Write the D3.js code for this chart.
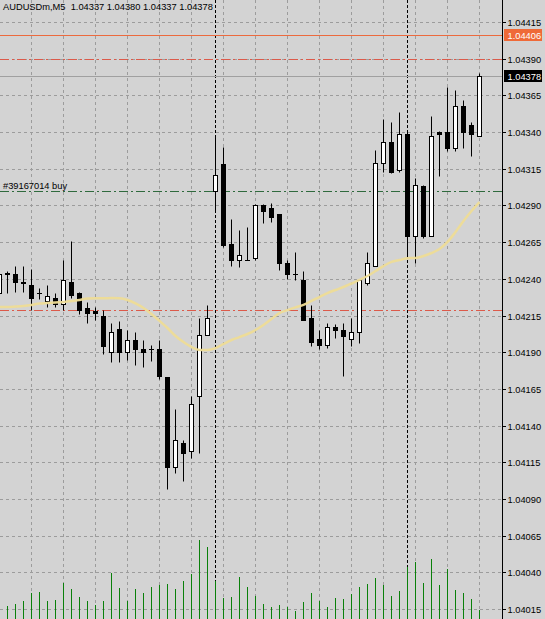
<!DOCTYPE html>
<html><head><meta charset="utf-8">
<script src="https://cdn.jsdelivr.net/npm/d3@7"></script>
<style>html,body{margin:0;padding:0;background:#d3d3d3;overflow:hidden}</style>
</head><body>
<script>
// ---------- data ----------
const symbolTitle = "AUDUSDm,M5  1.04337 1.04380 1.04337 1.04378";
const orderLabel = "#39167014 buy";
const barIndex = d3.range(-1, 60);
const opens = [1.04230,1.04244,1.04243,1.04238,1.04236,1.04230,1.04225,1.04227,1.04223,1.04238,
  1.04230,1.04220,1.04218,1.04215,1.04190,1.04206,1.04190,1.04198,1.04192,1.04192,
  1.04192,1.04173,1.04112,1.04128,1.04123,1.04160,1.04202,1.04300,1.04318,1.04264,
  1.04253,1.04253,1.04254,1.04290,1.04288,1.04284,1.04251,1.04243,1.04239,1.04213,
  1.04199,1.04195,1.04207,1.04205,1.04199,1.04204,1.04237,1.04249,1.04319,1.04333,
  1.04314,1.04339,1.04269,1.04303,1.04269,1.04340,1.04340,1.04329,1.04358,1.04345,1.04337];
const highs = [1.04246,1.04245,1.04249,1.04249,1.04247,1.04234,1.04236,1.04230,1.04253,1.04266,
  1.04231,1.04224,1.04221,1.04219,1.04210,1.04211,1.04205,1.04204,1.04198,1.04195,
  1.04198,1.04173,1.04151,1.04130,1.04160,1.04213,1.04222,1.04337,1.04330,1.04281,
  1.04273,1.04275,1.04291,1.04291,1.04292,1.04284,1.04253,1.04258,1.04245,1.04222,
  1.04205,1.04210,1.04209,1.04210,1.04213,1.04239,1.04258,1.04328,1.04349,1.04347,
  1.04354,1.04340,1.04309,1.04304,1.04351,1.04341,1.04371,1.04369,1.04362,1.04347,1.04380];
const lows = [1.04228,1.04230,1.04231,1.04231,1.04219,1.04226,1.04221,1.04221,1.04219,1.04227,
  1.04216,1.04210,1.04212,1.04189,1.04183,1.04183,1.04185,1.04181,1.04180,1.04184,
  1.04172,1.04097,1.04108,1.04102,1.04118,1.04121,1.04202,1.04286,1.04262,1.04249,
  1.04248,1.04253,1.04253,1.04278,1.04279,1.04246,1.04240,1.04239,1.04212,1.04194,
  1.04192,1.04193,1.04200,1.04174,1.04194,1.04196,1.04236,1.04249,1.04313,1.04312,
  1.04313,1.04254,1.04251,1.04268,1.04269,1.04310,1.04327,1.04327,1.04329,1.04324,1.04337];
const closes = [1.04243,1.04243,1.04238,1.04237,1.04227,1.04230,1.04228,1.04223,1.04239,1.04229,
  1.04219,1.04217,1.04217,1.04194,1.04204,1.04190,1.04198,1.04192,1.04190,1.04192,
  1.04174,1.04112,1.04130,1.04121,1.04155,1.04202,1.04213,1.04311,1.04263,1.04253,
  1.04256,1.04253,1.04290,1.04286,1.04282,1.04251,1.04243,1.04243,1.04212,1.04197,
  1.04195,1.04207,1.04205,1.04201,1.04204,1.04239,1.04251,1.04319,1.04333,1.04313,
  1.04339,1.04269,1.04304,1.04269,1.04337,1.04339,1.04329,1.04358,1.04340,1.04339,1.04378];
const volumes = [30,26,30,37,52,54,37,39,73,61,45,37,29,37,93,62,36,61,52,64,68,70,61,77,90,158,144,77,42,44,85,
  64,47,31,24,28,24,17,34,53,37,24,42,40,51,64,70,83,68,47,56,104,115,73,121,68,100,59,52,40,19];
const maValues = [1.042208,1.042208,1.042211,1.042215,1.042222,1.042232,1.042235,1.042239,1.042242,1.042249,
  1.042256,1.042266,1.042267,1.042267,1.042269,1.042267,1.042256,1.042232,1.042201,1.042160,
  1.042113,1.042065,1.042010,1.041969,1.041935,1.041915,1.041915,1.041928,1.041956,1.041983,
  1.042003,1.042024,1.042051,1.042085,1.042126,1.042167,1.042187,1.042205,1.042222,1.042249,
  1.042276,1.042303,1.042324,1.042344,1.042368,1.042392,1.042419,1.042453,1.042487,1.042515,
  1.042528,1.042540,1.042542,1.042555,1.042576,1.042603,1.042651,1.042719,1.042794,1.042862,1.042923];
const priceTicks = [1.04415,1.04390,1.04365,1.04340,1.04315,1.04290,1.04265,1.04240,1.04215,
  1.04190,1.04165,1.04140,1.04115,1.04090,1.04065,1.04040,1.04015];
const askPrice = 1.04406, bidPrice = 1.04378, takeProfit = 1.04390, openPrice = 1.04300, stopLoss = 1.04219;
const separatorBars = [26, 50];
const gridBars = d3.range(3, 60, 4);

// ---------- layout ----------
const W = 545, H = 619, plotRight = 502;
const FONT = "'Liberation Sans', Arial, sans-serif";
const x = d3.scaleLinear().domain([-1, 59]).range([-0.5, 479.5]);
const y = d3.scaleLinear().domain([1.04015, 1.04415]).range([609, 22]);
const v = d3.scaleLinear().domain([0, 160]).range([619, 539]);
const snap = val => Math.round(val) + 0.5;

const svg = d3.select("body").append("svg").attr("width", W).attr("height", H)
  .style("display", "block");
svg.append("rect").attr("width", W).attr("height", H).attr("fill", "#d3d3d3");
svg.append("defs").append("clipPath").attr("id", "clip")
  .append("rect").attr("x", 0).attr("y", 0).attr("width", plotRight).attr("height", H);

const plot = svg.append("g").attr("clip-path", "url(#clip)");

// grid
plot.selectAll("line.hg").data(priceTicks).join("line").attr("class", "hg")
  .attr("x1", 0).attr("x2", plotRight).attr("y1", d => snap(y(d))).attr("y2", d => snap(y(d)))
  .attr("stroke", "#9c9c9c").attr("stroke-dasharray", "3,3");
plot.selectAll("line.vg").data(gridBars).join("line").attr("class", "vg")
  .attr("x1", d => x(d)).attr("x2", d => x(d)).attr("y1", 0).attr("y2", H)
  .attr("stroke", "#9c9c9c").attr("stroke-dasharray", "3,3");

// separators
plot.selectAll("line.sep").data(separatorBars).join("line").attr("class", "sep")
  .attr("x1", d => x(d)).attr("x2", d => x(d)).attr("y1", 0).attr("y2", H)
  .attr("stroke", "#000").attr("stroke-dasharray", "3,2");

// volumes
plot.selectAll("line.vol").data(barIndex).join("line").attr("class", "vol")
  .attr("x1", d => x(d)).attr("x2", d => x(d))
  .attr("y1", H).attr("y2", (d, i) => Math.round(v(volumes[i])))
  .attr("stroke", "#0a800a");

// trade levels
const levels = [
  {p: askPrice, c: "#ec6a3e", dash: null},
  {p: bidPrice, c: "#a0a0a0", dash: null},
  {p: takeProfit, c: "#dc5a4a", dash: "9,3,2,3"},
  {p: openPrice, c: "#2f6a3d", dash: "9,3,2,3"},
  {p: stopLoss, c: "#dc5a4a", dash: "9,3,2,3"}
];
plot.selectAll("line.lvl").data(levels).join("line").attr("class", "lvl")
  .attr("x1", 0).attr("x2", plotRight).attr("y1", d => snap(y(d.p))).attr("y2", d => snap(y(d.p)))
  .attr("stroke", d => d.c).attr("stroke-dasharray", d => d.dash);

// candles
const cg = plot.append("g");
barIndex.forEach((k, i) => {
  const cx = x(k);
  cg.append("line").attr("x1", cx).attr("x2", cx)
    .attr("y1", snap(y(highs[i]))).attr("y2", snap(y(lows[i]))).attr("stroke", "#000");
  const yO = Math.round(y(opens[i])), yC = Math.round(y(closes[i]));
  const top = Math.min(yO, yC) + 0.5, bot = Math.max(yO, yC) + 0.5;
  if (bot - top < 1) {
    cg.append("line").attr("x1", cx - 2.5).attr("x2", cx + 2.5).attr("y1", top).attr("y2", top)
      .attr("stroke", "#000");
  } else {
    cg.append("rect").attr("x", cx - 2).attr("y", top).attr("width", 4).attr("height", bot - top)
      .attr("fill", closes[i] >= opens[i] ? "#fff" : "#000").attr("stroke", "#000");
  }
});

// moving average
plot.append("path").datum(barIndex)
  .attr("d", d3.line().x(k => x(k)).y((k, i) => y(maValues[i])).curve(d3.curveMonotoneX))
  .attr("fill", "none").attr("stroke", "#eedc96").attr("stroke-width", 2.5)
  .attr("stroke-linejoin", "round").attr("opacity", 0.95);

// texts on chart
svg.append("text").attr("x", 3).attr("y", 10).attr("font-family", FONT).attr("font-size", 9.3)
  .style("white-space", "pre").attr("xml:space", "preserve").attr("fill", "#000").text(symbolTitle);
svg.append("text").attr("x", 3).attr("y", 189).attr("font-family", FONT).attr("font-size", 9.3)
  .attr("fill", "#000").text(orderLabel);

// right axis
svg.append("line").attr("x1", plotRight + 0.5).attr("x2", plotRight + 0.5).attr("y1", 0).attr("y2", H)
  .attr("stroke", "#000");
const axisG = svg.append("g");
priceTicks.forEach(p => {
  const yy = snap(y(p));
  axisG.append("line").attr("x1", 503).attr("x2", 506).attr("y1", yy).attr("y2", yy).attr("stroke", "#000");
  axisG.append("text").attr("x", 507.5).attr("y", yy + 3.3).attr("font-family", FONT)
    .attr("font-size", 9.3).attr("fill", "#000").text(d3.format(".5f")(p));
});
[{p: askPrice, bg: "#ef6a38"}, {p: bidPrice, bg: "#000"}].forEach(d => {
  const yy = Math.round(y(d.p));
  axisG.append("rect").attr("x", 504).attr("y", yy - 6).attr("width", 38).attr("height", 12).attr("fill", d.bg);
  axisG.append("text").attr("x", 507.5).attr("y", yy + 3.8).attr("font-family", FONT)
    .attr("font-size", 9.3).attr("fill", "#fff").text(d3.format(".5f")(d.p));
});
</script>
</body></html>
